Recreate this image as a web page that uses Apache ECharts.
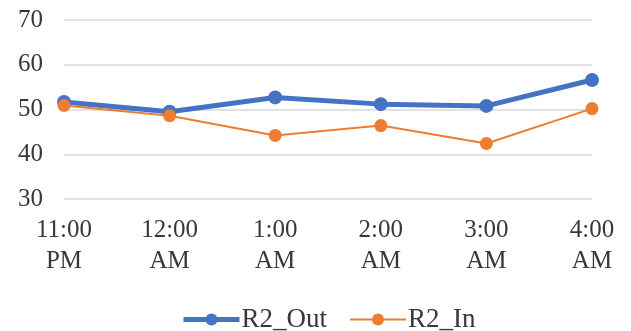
<!DOCTYPE html>
<html>
<head>
<meta charset="utf-8">
<script src="https://cdn.jsdelivr.net/npm/echarts@6/dist/echarts.min.js"></script>
<style>html,body{margin:0;padding:0;background:#fff;}#c{width:631px;height:331px;}</style>
</head>
<body>
<div id="c"></div>
<script>
const categories = ['11:00\nPM', '12:00\nAM', '1:00\nAM', '2:00\nAM', '3:00\nAM', '4:00\nAM'];
const r2Out = [51.7, 49.5, 52.7, 51.2, 50.8, 56.6];
const r2In = [50.9, 48.6, 44.2, 46.4, 42.4, 50.2];
const yMin = 30, yMax = 70, yStep = 10;

const chart = echarts.init(document.getElementById('c'), null, {renderer: 'canvas'});
const font = 'Liberation Serif, Times New Roman, serif';
chart.setOption({
  animation: false,
  backgroundColor: '#fff',
  grid: {left: 64, right: 39, top: 20, bottom: 132, containLabel: false},
  legend: {
    left: 176, top: 301,
    itemWidth: 56, itemHeight: 15, itemGap: 22,
    textStyle: {fontFamily: font, fontSize: 27, color: '#383838', padding: [0,0,0,-3]},
    data: [
      {name: 'R2_Out', lineStyle: {width: 5}},
      {name: 'R2_In', lineStyle: {width: 2}}
    ]
  },
  xAxis: {
    type: 'category',
    data: categories,
    boundaryGap: false,
    axisLine: {show: false},
    axisTick: {show: false},
    axisLabel: {fontFamily: font, fontSize: 25, color: '#383838', lineHeight: 31, margin: 16, interval: 0}
  },
  yAxis: {
    type: 'value',
    min: yMin, max: yMax, interval: yStep,
    axisLine: {show: false},
    axisTick: {show: false},
    axisLabel: {fontFamily: font, fontSize: 25, color: '#383838', margin: 21},
    splitLine: {lineStyle: {color: '#d9d9d9', width: 1.5}}
  },
  series: [
    {
      name: 'R2_Out', type: 'line', data: r2Out,
      symbol: 'circle', symbolSize: 14,
      itemStyle: {color: '#4472C4'},
      lineStyle: {color: '#4472C4', width: 5}
    },
    {
      name: 'R2_In', type: 'line', data: r2In,
      symbol: 'circle', symbolSize: 13,
      itemStyle: {color: '#ED7D31'},
      lineStyle: {color: '#ED7D31', width: 2}
    }
  ]
});
</script>
</body>
</html>
